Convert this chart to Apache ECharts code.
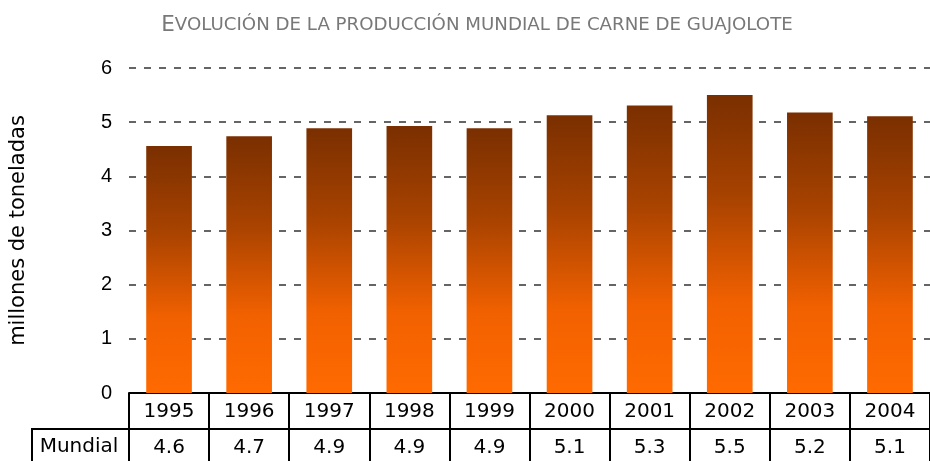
<!DOCTYPE html>
<html>
<head>
<meta charset="utf-8">
<script src="https://cdn.jsdelivr.net/npm/echarts@6/dist/echarts.min.js"></script>
<style>
html,body{margin:0;padding:0;background:#fff;}
#chart{width:930px;height:461px;}
</style>
</head>
<body>
<div id="chart"></div>
<script>
const titleText = "Evolución de la producción mundial de carne de guajolote";
const yAxisName = "millones de toneladas";
const rowLabel = "Mundial";
const years = ["1995","1996","1997","1998","1999","2000","2001","2002","2003","2004"];
const barValues = [4.56, 4.74, 4.89, 4.93, 4.89, 5.13, 5.31, 5.50, 5.18, 5.11];
const tableValues = ["4.6","4.7","4.9","4.9","4.9","5.1","5.3","5.5","5.2","5.1"];
const yTicks = [0, 1, 2, 3, 4, 5, 6];

const chart = echarts.init(document.getElementById('chart'), null, {renderer: 'canvas'});
const tableFont = 'DejaVu Sans';

chart.setOption({
  animation: false,
  backgroundColor: '#fff',
  title: {
    text: '{big|' + titleText.charAt(0).toUpperCase() + '}{small|' + titleText.slice(1).toUpperCase() + '}',
    left: 472, top: 9, textAlign: 'center',
    textStyle: {
      rich: {
        big: {fontFamily: 'DejaVu Sans', fontWeight: 'normal', fontSize: 21.5, color: '#787878'},
        small: {fontFamily: 'DejaVu Sans', fontWeight: 'normal', fontSize: 18.2, color: '#787878'}
      }
    }
  },
  grid: {left: 127, right: -9, top: 68, bottom: 68, containLabel: false},
  xAxis: [{
    type: 'category', data: years, position: 'bottom',
    axisLine: {show: true, lineStyle: {color: '#000', width: 2}},
    axisTick: {show: true, interval: 0, length: 68, lineStyle: {color: '#000', width: 2}},
    axisLabel: {interval: 0, margin: 9, fontFamily: tableFont, fontSize: 20, color: '#000'}
  }, {
    type: 'category', data: years, position: 'bottom', offset: 36,
    axisLine: {show: true, lineStyle: {color: '#000', width: 2}},
    axisTick: {show: false},
    axisLabel: {interval: 0, margin: 9, fontFamily: tableFont, fontSize: 20, color: '#000',
      formatter: function (v, i) { return tableValues[i]; }}
  }],
  yAxis: {
    type: 'value', min: yTicks[0], max: yTicks[yTicks.length - 1], interval: 1,
    name: yAxisName, nameLocation: 'middle', nameGap: 100, nameRotate: 90,
    nameTextStyle: {fontFamily: 'DejaVu Sans', fontSize: 21, color: '#000'},
    axisLine: {show: false}, axisTick: {show: false},
    axisLabel: {margin: 17, fontFamily: 'Liberation Sans', fontSize: 20, color: '#000'},
    splitLine: {show: true, lineStyle: {color: '#333', width: 1.5, type: [7, 8]}}
  },
  graphic: [
    {type: 'line', shape: {x1: 31, y1: 429, x2: 128, y2: 429}, style: {stroke: '#000', lineWidth: 2}},
    {type: 'line', shape: {x1: 32, y1: 428, x2: 32, y2: 461}, style: {stroke: '#000', lineWidth: 2}},
    {type: 'text', x: 79, y: 447, style: {text: rowLabel, fontFamily: tableFont, fontSize: 20, fill: '#000', align: 'center', verticalAlign: 'middle'}}
  ],
  series: [{
    type: 'bar', data: barValues, xAxisIndex: 0, barWidth: '57%',
    itemStyle: {
      color: new echarts.graphic.LinearGradient(0, 0, 0, 1, [
        {offset: 0, color: '#7a2f00'},
        {offset: 0.35, color: '#a94300'},
        {offset: 0.7, color: '#f26100'},
        {offset: 1, color: '#ff6a00'}
      ])
    }
  }]
});
</script>
</body>
</html>
